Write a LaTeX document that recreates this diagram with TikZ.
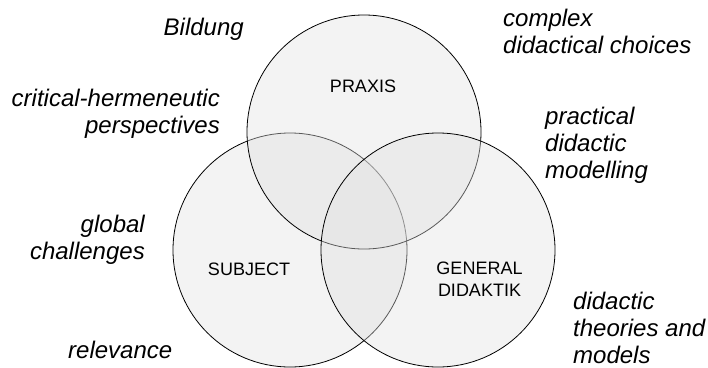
\documentclass[tikz,border=0pt]{standalone}
\usepackage{fontspec}
\setmainfont{Liberation Sans}
\begin{document}
\begin{tikzpicture}[x=1pt,y=-1pt,
  setcircle/.style={circle, draw=black, line width=0.8pt, fill=black!12,
    fill opacity=0.4, minimum size=234pt, inner sep=0pt},
  setname/.style={font=\fontsize{18}{22}\selectfont, align=center, inner sep=0pt},
  aspect/.style={font=\fontsize{24}{26.7}\selectfont\itshape, inner sep=0pt}]
\useasboundingbox (0,0) rectangle (708,367);

% the three overlapping sets
\node[setcircle] (subject) at (290,250) {};
\node[setcircle] (praxis)  at (364,132) {};
\node[setcircle] (general) at (438,250) {};

% set names (base anchor sits on the last line)
\node[setname, anchor=base] (praxislbl)  at (363,92.7) {PRAXIS};
\node[setname, anchor=base] (subjectlbl) at (249,275) {SUBJECT};
\node[setname, anchor=base] (generallbl) at (479.5,296.7) {GENERAL\\DIDAKTIK};

% surrounding aspects
\node[aspect, anchor=base east] (bildung) at (244,35) {Bildung};
\node[aspect, anchor=base east, align=right] (critical) at (220,133)
  {critical-hermeneutic\\perspectives};
\node[aspect, anchor=base east, align=right] (global) at (145,259)
  {global\\challenges};
\node[aspect, anchor=base west] (relevance) at (68,358) {relevance};
\node[aspect, anchor=base west, align=left] (complex) at (503,53)
  {complex\\didactical choices};
\node[aspect, anchor=base west, align=left] (practical) at (545,178)
  {practical\\didactic\\modelling};
\node[aspect, anchor=base west, align=left] (theories) at (573,363)
  {didactic\\theories and\\models};
\end{tikzpicture}
\end{document}
